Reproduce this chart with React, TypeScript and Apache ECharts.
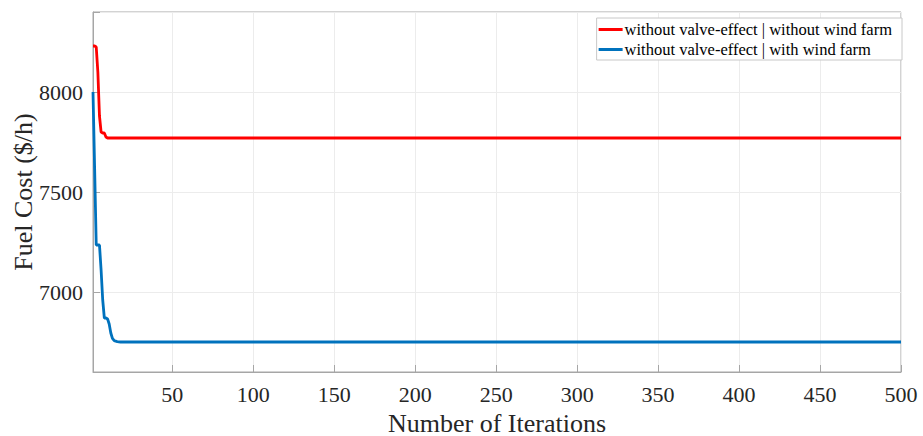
import React, { useEffect, useRef } from "react";
import * as echarts from "echarts";

const seriesNames = [
  "without valve-effect | without wind farm",
  "without valve-effect | with wind farm",
];

// [iteration, fuel cost]
const redData: [number, number][] = [
  [1, 8230], [2, 8230], [3, 8225], [4, 8100], [5, 7880], [6, 7800], [7, 7795],
  [8, 7795], [9, 7775], [10, 7770], [500, 7770],
];
const blueData: [number, number][] = [
  [1, 8000], [2, 7620], [3, 7235], [4, 7235], [5, 7235], [6, 7110], [7, 6960],
  [8, 6870], [9, 6870], [10, 6865], [11, 6840], [12, 6795], [13, 6768],
  [14, 6758], [15, 6754], [16, 6752], [17, 6751], [18, 6750], [500, 6750],
];

const yTicks = [7000, 7500, 8000];
const xTicks = [50, 100, 150, 200, 250, 300, 350, 400, 450, 500];

const FONT = "'Liberation Serif', 'Times New Roman', serif";

export default function App() {
  const ref = useRef<HTMLDivElement>(null);
  useEffect(() => {
    if (!ref.current) return;
    const chart = echarts.init(ref.current, undefined, { renderer: "svg" });
    chart.setOption({
      animation: false,
      backgroundColor: "#ffffff",
      grid: {
        left: 93,
        right: 22,
        top: 12,
        bottom: 64,
        containLabel: false,
        outerBoundsMode: "none",
        show: true,
        borderColor: "#a6a6a6",
        borderWidth: 1,
      },
      legend: {
        right: 21,
        top: 18,
        orient: "vertical",
        backgroundColor: "#ffffff",
        borderColor: "#c8c8c8",
        borderWidth: 1,
        padding: [3, 10, 2, 2],
        itemGap: 3,
        itemWidth: 24,
        itemHeight: 3,
        icon: "rect",
        textStyle: { fontFamily: FONT, fontSize: 16.5, color: "#000", padding: [0, 0, 0, -3] },
        data: seriesNames,
      },
      xAxis: {
        type: "value",
        min: 1,
        max: 500,
        splitNumber: 10,
        name: "Number of Iterations",
        nameLocation: "middle",
        nameGap: 38,
        nameMoveOverlap: false,
        nameTextStyle: { fontFamily: FONT, fontSize: 26, color: "#262626" },
        axisLine: { show: true, lineStyle: { color: "#a6a6a6" } },
        axisTick: { show: true, inside: true, length: 7, lineStyle: { color: "#a6a6a6" } },
        axisLabel: {
          fontFamily: FONT,
          fontSize: 22,
          color: "#262626",
          margin: 11,
          formatter: (v: number) => (xTicks.includes(v) ? String(v) : ""),
        },
        splitLine: { show: true, lineStyle: { color: "#ececec" } },
      },
      yAxis: {
        type: "value",
        min: 6600,
        max: 8400,
        splitNumber: 4,
        name: "Fuel Cost ($/h)",
        nameLocation: "middle",
        nameGap: 57,
        nameMoveOverlap: false,
        nameTextStyle: { fontFamily: FONT, fontSize: 26, color: "#262626" },
        axisLine: { show: true, lineStyle: { color: "#a6a6a6" } },
        axisTick: { show: true, inside: true, length: 7, lineStyle: { color: "#a6a6a6" } },
        axisLabel: {
          fontFamily: FONT,
          fontSize: 22,
          color: "#262626",
          margin: 10,
          formatter: (v: number) => (yTicks.includes(v) ? String(v) : ""),
        },
        splitLine: { show: true, lineStyle: { color: "#ececec" } },
      },
      series: [
        {
          name: seriesNames[0],
          type: "line",
          data: redData,
          showSymbol: false,
          symbol: "none",
          color: "#ff0000",
          lineStyle: { width: 2.8, color: "#ff0000" },
          z: 3,
        },
        {
          name: seriesNames[1],
          type: "line",
          data: blueData,
          showSymbol: false,
          symbol: "none",
          color: "#0072bd",
          lineStyle: { width: 2.8, color: "#0072bd" },
          z: 4,
        },
      ],
    });
    return () => chart.dispose();
  }, []);
  return (
    <div
      ref={ref}
      style={{ position: "fixed", left: 0, top: 0, width: 923, height: 436 }}
    />
  );
}
